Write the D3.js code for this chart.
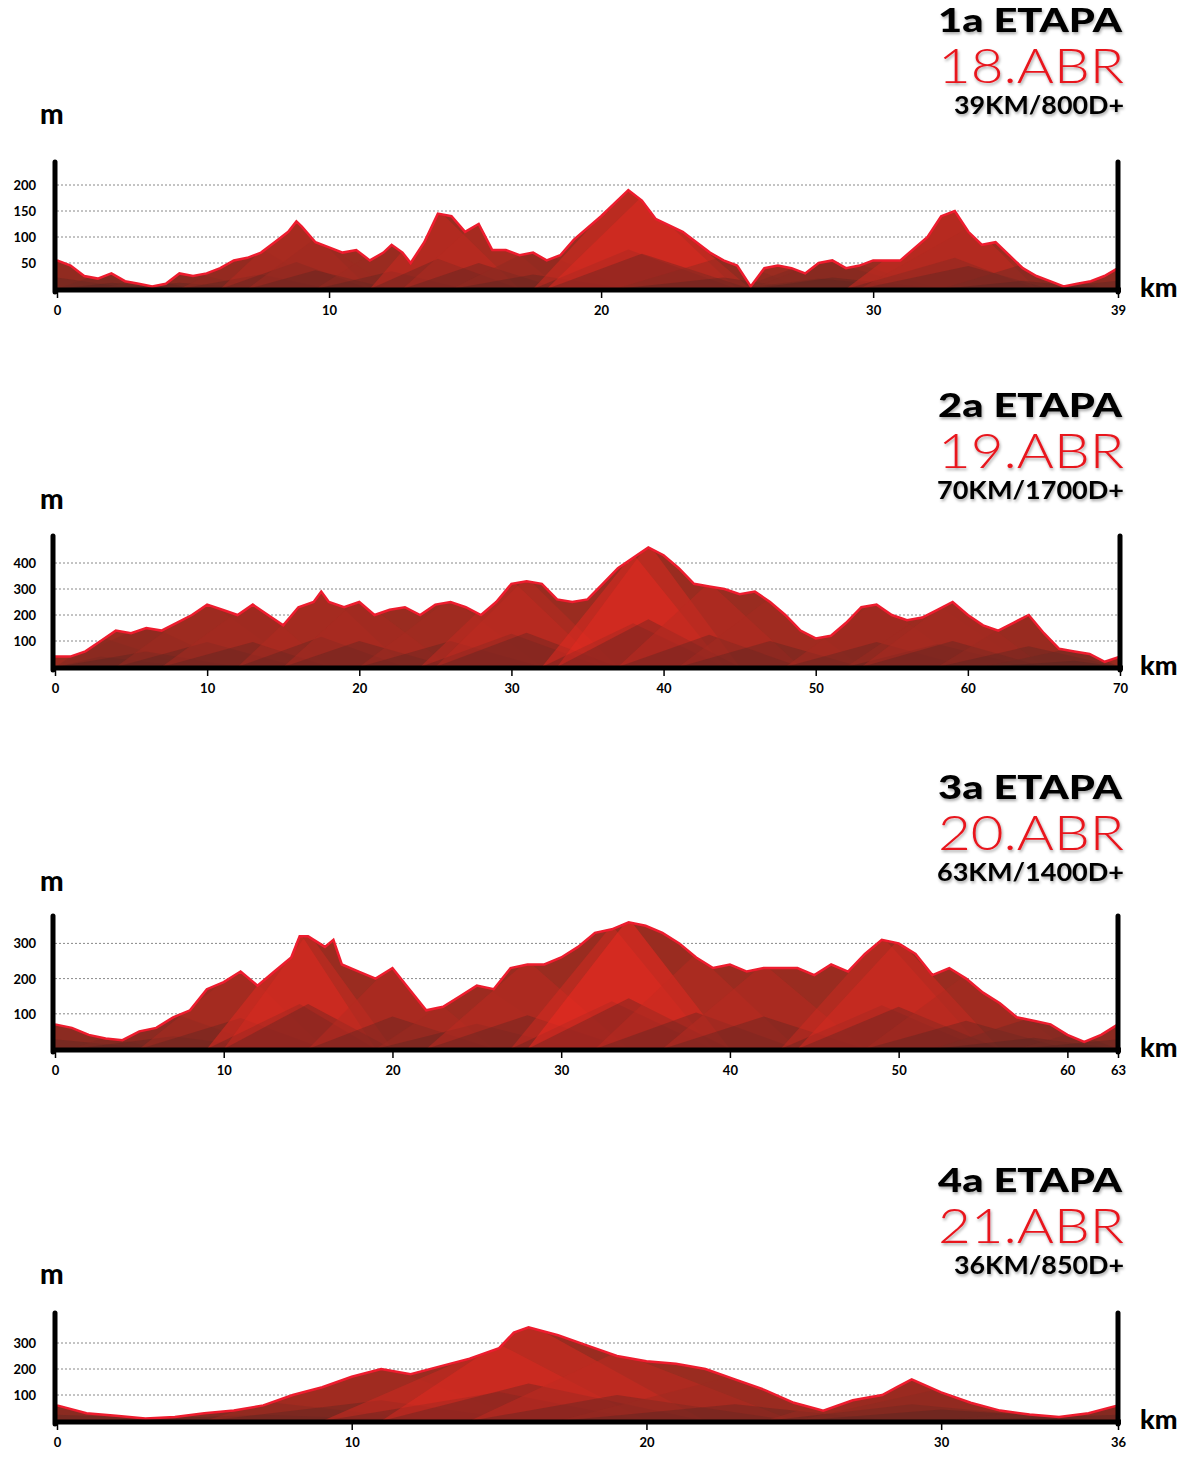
<!DOCTYPE html>
<html><head><meta charset="utf-8">
<script src="https://cdn.jsdelivr.net/npm/d3@7"></script>
<style>body{margin:0;background:#fff}svg{display:block}</style>
</head><body><div id="chart"></div>
<script>
// stage titles
const stageNames = ["1a ETAPA", "2a ETAPA", "3a ETAPA", "4a ETAPA"];
const stageDates = ["18.ABR", "19.ABR", "20.ABR", "21.ABR"];
const stageInfo = ["39KM/800D+", "70KM/1700D+", "63KM/1400D+", "36KM/850D+"];

// elevation profiles [km, m]
const profile1 = [[0,55],[0.5,45],[1,25],[1.5,20],[2,30],[2.5,15],[3,10],[3.5,5],[4,10],[4.5,30],[5,25],[5.5,30],[6,40],[6.5,55],[7,60],[7.5,70],[8,90],[8.5,110],[8.8,130],[9,120],[9.5,90],[10,80],[10.5,70],[11,75],[11.5,55],[12,70],[12.3,85],[12.7,70],[13,50],[13.5,90],[14,145],[14.5,140],[15,110],[15.5,125],[16,75],[16.5,75],[17,65],[17.5,70],[18,55],[18.5,65],[19,95],[20,140],[20.5,165],[21,190],[21.5,170],[22,135],[23,110],[24,70],[24.5,55],[25,45],[25.5,5],[26,40],[26.5,45],[27,40],[27.5,30],[28,50],[28.5,55],[29,40],[29.5,45],[30,55],[31,55],[32,100],[32.5,140],[33,150],[33.5,110],[34,85],[34.5,90],[35,65],[35.5,40],[36,25],[36.5,15],[37,5],[37.5,10],[38,15],[38.5,25],[39,40]];
const profile2 = [[0,40],[1,40],[2,60],[3,100],[4,140],[5,130],[6,150],[7,140],[8,170],[9,200],[10,240],[11,220],[12,200],[13,240],[14,200],[15,160],[16,230],[17,250],[17.5,290],[18,250],[19,230],[20,250],[21,200],[22,220],[23,230],[24,200],[25,240],[26,250],[27,230],[28,200],[29,250],[30,320],[31,330],[32,320],[33,260],[34,250],[35,260],[36,320],[37,380],[38,420],[39,460],[40,430],[41,380],[42,320],[43,310],[44,300],[45,280],[46,290],[47,250],[48,200],[49,140],[50,110],[51,120],[52,170],[53,230],[54,240],[55,200],[56,180],[57,190],[58,220],[59,250],[60,200],[61,160],[62,140],[63,170],[64,200],[65,130],[66,70],[67,60],[68,50],[69,20],[70,40]];
const profile3 = [[0,70],[1,60],[2,40],[3,30],[4,25],[5,50],[6,60],[7,90],[8,110],[9,170],[10,190],[11,220],[12,180],[13,220],[14,260],[14.5,320],[15,320],[16,290],[16.5,310],[17,240],[18,220],[19,200],[20,230],[21,170],[22,110],[23,120],[24,150],[25,180],[26,170],[27,230],[28,240],[29,240],[30,260],[31,290],[32,330],[33,340],[34,360],[35,350],[36,330],[37,300],[38,260],[39,230],[40,240],[41,220],[42,230],[43,230],[44,230],[45,210],[46,240],[47,220],[48,270],[49,310],[50,300],[51,270],[52,210],[53,230],[54,200],[55,160],[56,130],[57,90],[58,80],[59,70],[60,40],[61,20],[62,40],[63,70]];
const profile4 = [[0,60],[1,30],[2,20],[3,10],[4,15],[5,30],[6,40],[7,60],[8,100],[9,130],[10,170],[11,200],[12,180],[13,210],[14,240],[15,280],[15.5,340],[16,360],[17,330],[18,290],[19,250],[20,230],[21,220],[22,200],[23,160],[24,120],[25,70],[26,40],[27,80],[28,100],[28.5,130],[29,160],[30,110],[31,70],[32,40],[33,25],[34,15],[35,30],[36,60]];
const profiles = [profile1, profile2, profile3, profile4];

// axis ticks
const kmTicks = [[0,10,20,30,39],[0,10,20,30,40,50,60,70],[0,10,20,30,40,50,60,63],[0,10,20,30,36]];
const mTicks = [[50,100,150,200],[100,200,300,400],[100,200,300],[100,200,300]];
const kmMax = [39, 70, 63, 36];

// layout per panel
const layout = [
  {base: 289, top: 162, x0: 57, x1: 1118, ty: 34, mPerPx: 0.52},
  {base: 667, top: 536, x0: 55, x1: 1120, ty: 419, mPerPx: 0.26},
  {base: 1049, top: 916, x0: 55, x1: 1118, ty: 801, mPerPx: 0.352},
  {base: 1421, top: 1313, x0: 57, x1: 1118, ty: 1194, mPerPx: 0.26}
];

const svg = d3.select("#chart").append("svg").attr("width", 1200).attr("height", 1458);
const defs = svg.append("defs");
const f = defs.append("filter").attr("id", "sh").attr("x", "-10%").attr("y", "-20%").attr("width", "120%").attr("height", "150%");
f.append("feDropShadow").attr("dx", 1).attr("dy", 2).attr("stdDeviation", 1.5).attr("flood-opacity", 0.35);

profiles.forEach((data, p) => {
  const L = layout[p];
  const x = d3.scaleLinear().domain([0, kmMax[p]]).range([L.x0, L.x1]);
  const y = d3.scaleLinear().domain([0, 1]).range([L.base, L.base - L.mPerPx]);
  const g = svg.append("g");

  // titles (stretched to the wide face of the original)
  g.append("text").attr("x", 1122).attr("y", L.ty - 2).attr("text-anchor", "end")
    .attr("font-family", "Lato").attr("font-weight", 900).attr("font-size", 33)
    .attr("textLength", 184).attr("lengthAdjust", "spacingAndGlyphs")
    .attr("filter", "url(#sh)").text(stageNames[p]);
  g.append("text").attr("x", 1124).attr("y", L.ty + 49).attr("text-anchor", "end")
    .attr("font-family", "Lato").attr("font-weight", 300).attr("font-size", 47).attr("fill", "#e8141e")
    .attr("textLength", 186).attr("lengthAdjust", "spacingAndGlyphs")
    .attr("filter", "url(#sh)").text(stageDates[p]);
  g.append("text").attr("x", 1124).attr("y", L.ty + 80).attr("text-anchor", "end")
    .attr("font-family", "Lato").attr("font-weight", 700).attr("font-size", 24)
    .attr("textLength", stageInfo[p].length * 17).attr("lengthAdjust", "spacingAndGlyphs")
    .attr("filter", "url(#sh)").text(stageInfo[p]);
  g.append("text").attr("x", 40).attr("y", L.ty + 90)
    .attr("font-family", "Lato").attr("font-weight", 900).attr("font-size", 28).text("m");
  g.append("text").attr("x", 1140).attr("y", L.base + 8)
    .attr("font-family", "Lato").attr("font-weight", 900).attr("font-size", 27).text("km");

  // grid
  g.append("g").selectAll("line").data(mTicks[p]).join("line")
    .attr("x1", L.x0).attr("x2", L.x1).attr("y1", d => y(d)).attr("y2", d => y(d))
    .attr("stroke", "#888").attr("stroke-dasharray", "2,2").attr("stroke-width", 1);
  g.append("g").selectAll("text").data(mTicks[p]).join("text")
    .attr("x", 36).attr("y", d => y(d) + 5).attr("text-anchor", "end")
    .attr("font-family", "Lato").attr("font-weight", 700).attr("font-size", 13).text(d => d);

  // area
  const clipId = "clip" + p;
  const area = d3.area().x(d => x(d[0])).y0(L.base).y1(d => y(d[1]));
  defs.append("clipPath").attr("id", clipId).append("path").attr("d", area(data));
  g.append("path").attr("d", area(data)).attr("fill", "#9a2c20");

  // facet triangles derived from the profile
  const fg = g.append("g").attr("clip-path", `url(#${clipId})`);
  const peakIdx = [];
  for (let i = 0; i < data.length; i += 4) {
    let best = i;
    for (let j = i; j < Math.min(i + 4, data.length); j++) if (data[j][1] > data[best][1]) best = j;
    peakIdx.push(best);
  }
  const maxV = d3.max(data, d => d[1]);
  const col = d3.scaleLinear().domain([0, maxV]).range(["#5a2a22", "#ec2a20"]);
  peakIdx.forEach((pi, k) => {
    const a = data[Math.max(0, pi - 6)], b = data[Math.min(data.length - 1, pi + 6)], c = data[pi];
    fg.append("path")
      .attr("d", `M${x(a[0])},${L.base}L${x(c[0])},${y(c[1]) - 4}L${x(b[0])},${L.base}Z`)
      .attr("fill", col(c[1])).attr("opacity", k % 2 ? 0.55 : 0.4);
    fg.append("path")
      .attr("d", `M${x(a[0])},${L.base}L${x(c[0])},${y(c[1] * 0.4)}L${x(b[0])},${L.base}Z`)
      .attr("fill", "#4a2620").attr("opacity", 0.3);
  });
  g.append("path").attr("d", d3.line().x(d => x(d[0])).y(d => y(d[1]))(data))
    .attr("fill", "none").attr("stroke", "#ee1c2e").attr("stroke-width", 2.5);

  // axes frame
  g.append("line").attr("x1", L.x0 - 3).attr("x2", L.x1 + 3).attr("y1", L.base + 1).attr("y2", L.base + 1)
    .attr("stroke", "#000").attr("stroke-width", 5);
  [L.x0 - 2, L.x1].forEach(xx => g.append("line").attr("x1", xx).attr("x2", xx)
    .attr("y1", L.top).attr("y2", L.base + 3).attr("stroke", "#000").attr("stroke-width", 5).attr("stroke-linecap", "round"));

  const xa = g.append("g").attr("transform", `translate(0,${L.base + 3})`)
    .call(d3.axisBottom(x).tickValues(kmTicks[p]).tickSize(6).tickPadding(8));
  xa.select(".domain").remove();
  xa.selectAll("line").attr("stroke", "#000").attr("stroke-width", 1.5);
  xa.selectAll("text").attr("font-family", "Lato").attr("font-weight", 700).attr("font-size", 13).attr("fill", "#000");
});
</script></body></html>
